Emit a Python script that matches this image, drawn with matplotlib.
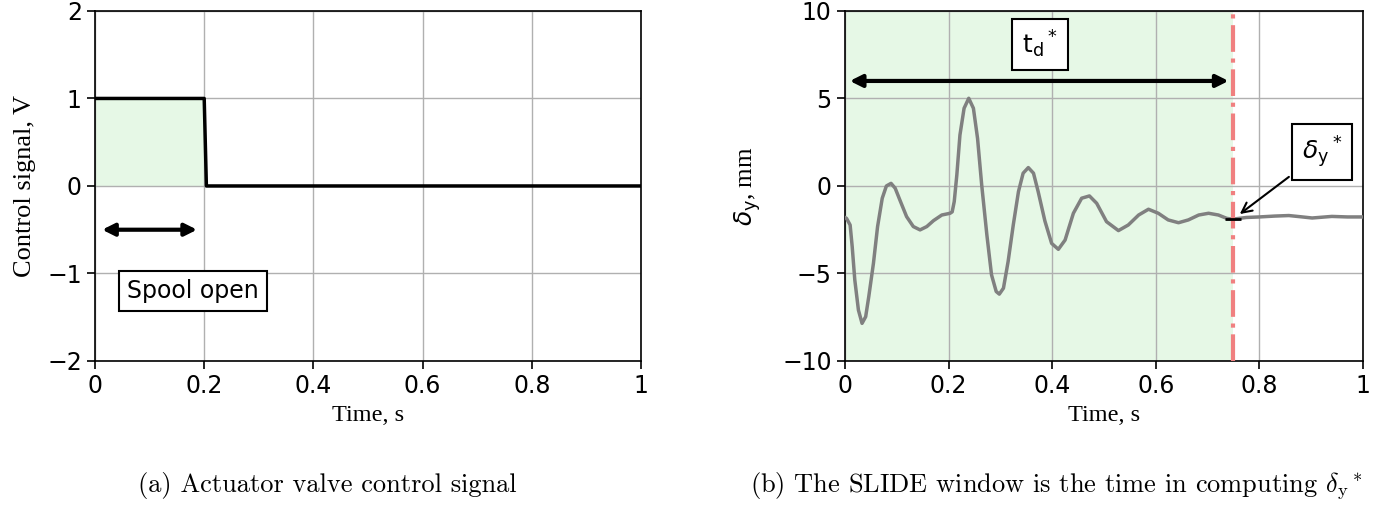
from matplotlib import pyplot as plt
from matplotlib.ticker import FuncFormatter

# left panel: valve control signal
sig_t = [0.0, 0.2, 0.204, 1.0]
sig_v = [1.0, 1.0, 0.0, 0.0]

# right panel: delta_y response
dy_t = [0.0, 0.003, 0.010, 0.014, 0.019, 0.026, 0.033, 0.040, 0.046, 0.055,
        0.063, 0.072, 0.080, 0.089, 0.097, 0.106, 0.119, 0.132, 0.145, 0.158,
        0.171, 0.187, 0.203, 0.207, 0.211, 0.216, 0.222, 0.230, 0.239, 0.248,
        0.256, 0.264, 0.274, 0.283, 0.292, 0.298, 0.306, 0.315, 0.325, 0.335,
        0.344, 0.354, 0.364, 0.373, 0.386, 0.399, 0.412, 0.425, 0.441, 0.457,
        0.472, 0.486, 0.505, 0.528, 0.547, 0.567, 0.586, 0.605, 0.624, 0.644,
        0.663, 0.683, 0.702, 0.721, 0.737, 0.748, 0.775, 0.800, 0.830, 0.857,
        0.880, 0.902, 0.940, 0.970, 1.0]
dy_v = [-1.80, -1.85, -2.23, -3.47, -5.37, -7.09, -7.85, -7.47, -6.32, -4.42,
        -2.32, -0.70, 0.00, 0.15, -0.13, -0.80, -1.75, -2.32, -2.51, -2.32,
        -1.98, -1.66, -1.56, -1.48, -0.89, 0.63, 2.91, 4.44, 5.01, 4.44,
        2.72, 0.06, -2.80, -5.08, -6.03, -6.18, -5.84, -4.32, -2.22, -0.32,
        0.73, 1.05, 0.73, -0.32, -2.00, -3.28, -3.62, -3.09, -1.56, -0.70,
        -0.57, -0.99, -2.04, -2.55, -2.23, -1.66, -1.33, -1.56, -1.94, -2.10,
        -1.94, -1.66, -1.56, -1.66, -1.85, -1.90, -1.80, -1.77, -1.72, -1.69,
        -1.76, -1.83, -1.74, -1.77, -1.77]

t_star = 0.75
open_end = 0.2

green = '#e6f8e6'
serif = 'Liberation Serif'


def fmt(x, pos):
    return ('%g' % x).replace('-', '\u2212')


fig = plt.figure(figsize=(13.95, 5.14), dpi=100)
ax1 = fig.add_axes([0.0681, 0.2977, 0.3914, 0.681])
ax2 = fig.add_axes([0.6057, 0.2977, 0.3713, 0.681])

#left plot
ax1.fill_between([0, open_end], 0, 1, color=green, lw=0, zorder=0)
ax1.plot(sig_t, sig_v, color='black', lw=2.5, zorder=3)
ax1.set_xlim(0, 1)
ax1.set_ylim(-2, 2)
ax1.set_xticks([0, 0.2, 0.4, 0.6, 0.8, 1.0])
ax1.set_yticks([-2, -1, 0, 1, 2])
ax1.annotate('', xy=(0.008, -0.5), xytext=(0.192, -0.5),
             arrowprops=dict(arrowstyle='<|-|>', color='black', lw=3, mutation_scale=18))
ax1.text(0.18, -1.2, 'Spool open', fontsize=17, ha='center', va='center',
         bbox=dict(boxstyle='square,pad=0.35', fc='white', ec='black', lw=1.5))
ax1.set_xlabel('Time, s', fontsize=17.5, family=serif, labelpad=5)
ax1.set_ylabel('Control signal, V', fontsize=19, family=serif, labelpad=8)

#right plot
ax2.axvspan(0, t_star, color=green, lw=0, zorder=0)
ax2.plot(dy_t, dy_v, color='gray', lw=2.5, zorder=3, solid_joinstyle='round')
ax2.axvline(t_star, color='#f08080', lw=3, ls='-.', zorder=4)
ax2.plot([t_star], [-1.88], marker='_', color='black', ms=11, mew=2, zorder=5)
ax2.set_xlim(0, 1)
ax2.set_ylim(-10, 10)
ax2.set_xticks([0, 0.2, 0.4, 0.6, 0.8, 1.0])
ax2.set_yticks([-10, -5, 0, 5, 10])
ax2.annotate('', xy=(0.004, 6.0), xytext=(0.746, 6.0),
             arrowprops=dict(arrowstyle='<|-|>', color='black', lw=3, mutation_scale=18))
ax2.text(0.376, 8.1, r'$\mathrm{t_d}^*$', fontsize=18, ha='center', va='center',
         bbox=dict(boxstyle='square,pad=0.4', fc='white', ec='black', lw=1.5))
ax2.annotate(r'$\delta_\mathrm{y}{}^*$', xy=(0.758, -1.7), xytext=(0.921, 1.95),
             fontsize=18, ha='center', va='center',
             bbox=dict(boxstyle='square,pad=0.4', fc='white', ec='black', lw=1.5),
             arrowprops=dict(arrowstyle='->', color='black', lw=1.5, mutation_scale=18))
ax2.set_xlabel('Time, s', fontsize=17.5, family=serif, labelpad=5)
ax2.set_ylabel(r'$\delta_\mathrm{y}$, mm', fontsize=18, family=serif, labelpad=14)

for ax in (ax1, ax2):
    ax.grid(True, color='#b0b0b0', lw=1)
    ax.set_axisbelow(True)
    ax.xaxis.set_major_formatter(FuncFormatter(fmt))
    ax.yaxis.set_major_formatter(FuncFormatter(fmt))
    ax.tick_params(labelsize=17, length=6, width=1.2)
    for s in ax.spines.values():
        s.set_linewidth(1.2)

#captions
fig.text(0.2345, 0.056, '(a) Actuator valve control signal', fontsize=19,
         family='cmr10', ha='center', va='center')
fig.text(0.7577, 0.056, r'(b) The SLIDE window is the time in computing $\delta_\mathrm{y}{}^*$',
         fontsize=19, family='cmr10', ha='center', va='center', math_fontfamily='cm')

plt.savefig('out.png', dpi=100)
